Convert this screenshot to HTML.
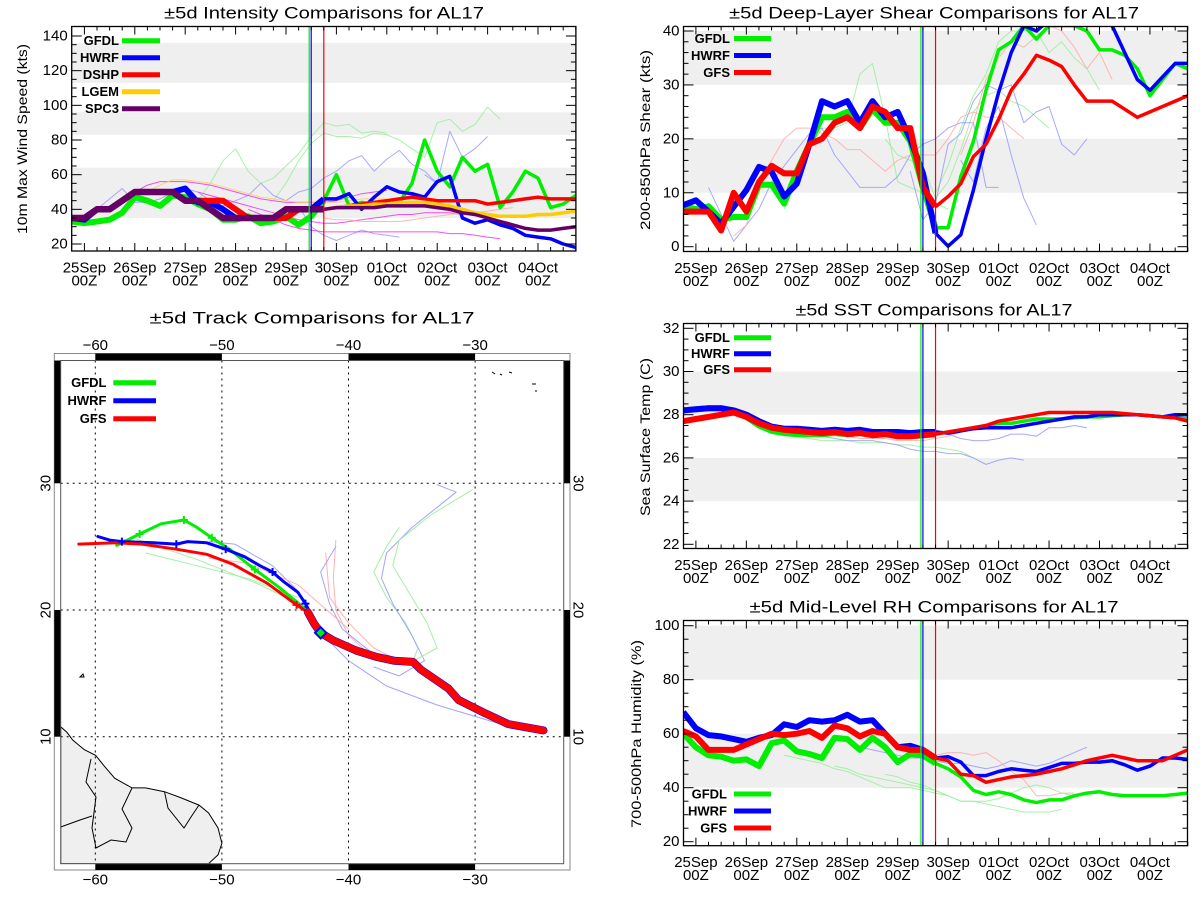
<!DOCTYPE html>
<html><head><meta charset="utf-8">
<style>
html,body{margin:0;padding:0;background:#fff;}
svg{display:block;font-family:"Liberation Sans",sans-serif;}
</style></head>
<body>
<svg id="fig" width="1200" height="900" viewBox="0 0 1200 900" xmlns="http://www.w3.org/2000/svg">
<rect x="0" y="0" width="1200" height="900" fill="#fff"/>
</svg>
<script>
// ---------- shared time axis ----------
const dayLabels = ["25Sep","26Sep","27Sep","28Sep","29Sep","30Sep","01Oct","02Oct","03Oct","04Oct"];
const HIST_END = 20;

// ---------- intensity data (kts), index i -> day (i-1)/4 ----------
const intTicks = [20,40,60,80,100,120,140];
const intBands = [[35,64],[83,96],[113,136]];
const intGFDL = [33,32,33,34,38,47,45,42,48,47,43,40,34,34,36,32,33,36,31,36,45,60,42,44,43,42,44,55,80,62,53,70,62,66,41,50,62,58,41,43,48];
const intHWRF = [35,34,40,40,45,50,50,50,50,52,44,44,40,35,35,35,35,40,40,40,46,46,49,40,47,53,50,49,47,56,59,35,32,34,31,29,25,24,23,20,18];
const intDSHP = [35,35,40,40,45,50,50,50,50,45,45,45,45,40,35,35,35,35,40,40,40,41,42,43,44,45,46,47,46,45,45,45,45,43,44,45,46,47,46,46,46];
const intLGEM = [null,null,null,null,null,null,null,null,null,null,null,null,null,null,null,null,null,null,null,null,40,41,42,42,43,43,44,44,44,43,42,40,38,37,36,36,36,37,37,38,39];
const intSPC3 = [35,35,40,40,45,50,50,50,50,45,45,40,35,35,35,35,35,40,40,40,40,41,41,41,41,42,42,42,42,41,40,38,37,35,33,31,29,28,28,29,30];
const intFaintG1 = [45,55,68,75,62,55,58,65,72,82,90,88,89,84,85,84];
const intFaintG2 = [45,55,68,78,84,82,82,81,84,83,80,75,70,90,92,85,89,99,92];
const intFaintB1 = [40,46,52,44,44,46,50,52,50,45,42,45,48,55,48,45,50,52,58,62,68,71,62,69,74,66,62,55,60];
const intFaintB2 = [42,30,25,22,25,28,26,25,24];
const intFaintB3 = [60,55,85,70,75,82];
const intFaintM1 = [45,50,54,56,56,56,55,54,52,50,48,46,45,44,44,44,44,45,47,49,50,51];
const intFaintM2 = [50,48,46,44,42,40,38,36,34,33,32,32,33,34,35,36,37,37,38,38,38,37];
const intFaintM3 = [40,37,34,31,29,28,27,27,27,27,27,27,27,27,27,27,26,26,25,24,23];
const intFaintY1 = [50,54,57,57,56,55,53,51,49,47,46,45,44,44,44,44,45,46,46,46];
const intFaintP1 = [35,34,34,33,33,33,33,34,35,36,37,38,38,39,40,41];

// ---------- shear data (kts) ----------
const shrTicks = [0,10,20,30,40];
const shrBands = [[10,20],[30,40]];
const shrGFDL = [7.5,7,7.5,5,5.5,5.5,11.5,11.5,8,14,19,24,24,25,22,25.5,23,23,19.5,11,3.5,3.5,13,19.5,29,36.5,38,41,38.5,41,41,41,40,36.5,36.5,35.5,33,28,31,34,33];
const shrHWRF = [7.7,8.6,6.5,4.3,7.4,10.5,14.8,13.9,9.3,11.7,19,27,26,27,23,27,24,25,20,13.6,2.5,0.1,2.2,10.5,20,28.6,36,41,40,42,42,42,42,42,41,36,31,29,31.5,34,34];
const shrGFS = [6.5,6.5,6.5,3,10,6.5,12,15,13.6,13.6,19,20,23,24,22,26,25,22,22,11,7.4,9.3,11.7,16.7,19,23.6,29,32,35.5,34.6,33.4,30,27,27,27,25.5,24,25,26,27,28];
const shrFaintG1 = [7,12,18,22,22,23,32,34,24,12,11,10,8,7];
const shrFaintG2 = [20,17,16,15,9,12,18,25,28,29,27,26,24,22];
const shrFaintG3 = [10,15,22,28,32,38,40,40,40,36,38,35,33,29];
const shrFaintB1 = [11,6,1,4,7,12,15,18,21,22,17,14,11,11,11,13,17,19,20,22,23,23,11,11];
const shrFaintB2 = [14,5,8,19,21,27,30,29,30,23,25,26,19,17,20];
const shrFaintB3 = [16,12,22,26,17,9,4];
const shrFaintR1 = [2,4,12,16,20,22,22,21,20,18,18,16,14,16,17,17,17,20,24,25,24,24,22,20];
const shrFaintR2 = [17,23,31,35,38,37,39,41,40,37,33,36,31];

// ---------- SST data (C) ----------
const sstTicks = [22,24,26,28,30,32];
const sstBands = [[24,26],[28,30]];
const sstGFDL = [28.2,28.25,28.3,28.3,28.2,27.9,27.5,27.25,27.15,27.1,27.1,27.1,27.15,27.1,27.15,27.05,27.1,27.0,27.0,27.05,27.1,27.2,27.3,27.4,27.5,27.6,27.6,27.7,27.8,27.8,27.8,27.85,27.9,27.9,27.95,28.0,28.0,27.95,27.9,27.85,27.8];
const sstHWRF = [28.2,28.25,28.3,28.3,28.2,28.0,27.7,27.45,27.35,27.35,27.3,27.25,27.3,27.25,27.3,27.2,27.2,27.2,27.15,27.2,27.2,27.15,27.25,27.35,27.4,27.4,27.4,27.5,27.6,27.7,27.8,27.9,27.9,28.0,28.0,28.0,28.0,27.95,27.9,28.0,28.0];
const sstGFS = [27.7,27.8,27.9,28.0,28.1,27.9,27.6,27.4,27.3,27.25,27.2,27.15,27.2,27.1,27.15,27.05,27.1,27.0,27.0,27.05,27.1,27.2,27.3,27.4,27.5,27.7,27.8,27.9,28.0,28.1,28.1,28.1,28.1,28.1,28.1,28.05,28.0,27.95,27.9,27.85,27.7];
const sstFaintG1 = [27.2,27.0,26.9,26.8,26.8,26.8,26.7,26.7,26.7,26.6,26.6,26.5,26.5,26.4,26.3,26.0,25.7];
const sstFaintB1 = [27.1,27.0,26.9,26.8,26.8,26.8,26.7,26.6,26.4,26.3,26.3,26.2,26.2,26.0,25.7,25.9,26.0,25.9];
const sstFaintB2 = [27.3,27.1,26.9,26.8,26.8,26.9,27.1,27.1,27.0,27.4,27.4,27.5,27.4];
const sstFaintR1 = [27.1,27.0,26.9,26.9,26.9,26.8,26.8,26.8,26.9,27.0,27.2,27.3,27.4,27.5,27.6,27.7,27.7];

// ---------- RH data (%) ----------
const rhTicks = [20,40,60,80,100];
const rhBands = [[40,60],[80,100]];
const rhGFDL = [60,55,52,51.5,50,50.5,48,56.5,57.5,53.5,52.5,51,58.5,58,54,58.5,55,49.5,52.5,52,49,47,44,39,37.5,38.5,37.5,35.5,34.5,35.5,35.5,37,38,38.5,37.5,37,37,37,37,37.5,38];
const rhHWRF = [68,62,59.5,59,58,57,58.5,59.5,63.5,62.5,65,64.5,65,67,64.5,65,60,55,55.5,54,51,51.5,49.5,44.5,44.5,46,47,46.5,46,47.5,49,49,49.5,49.5,50,48.5,46.5,48,51,51,50.5];
const rhGFS = [61,59,54,54,54,56,58,60,59.5,60,61,58.5,63,62,59,61,60,55,54,54,51,50,45,44.5,42,43,44,44.5,45,46,47,48.5,50,51,52,51,50,50,50,52,54];
const rhFaintG1 = [52,51,50,49,47,46,44,42,40,40,40,39,38,37];
const rhFaintG2 = [48,47,45,44,43,42,41,40,39,37,35,35,34,33,32,31,31,31,32];
const rhFaintG3 = [45,44,42,41,39,37,35,35,35,36,38,40,41,40,38,37];
const rhFaintB1 = [55,54,53,52,51,51,50,49,49,48,47,48,50,49,48,49,51,53,55];
const rhFaintR1 = [54,53,52,53,53,52,53,50,46,43,37,37,38,38];

// ---------- track data [lon, lat] ----------
const lonTicks = [-60,-50,-40,-30];
const latTicks = [10,20,30];
const trkGFS = [[-24.6,10.5],[-27.4,11.0],[-29.2,11.85],[-31.3,12.9],[-32.1,13.8],[-34.3,15.3],[-34.9,15.9],[-36.4,16.0],[-37.8,16.3],[-39.4,16.8],[-41.2,17.6],[-42.2,18.2],[-42.7,18.9],[-43.2,19.8],[-44.1,20.4],[-46.4,22.1],[-49.1,23.6],[-51.2,24.4],[-53.6,24.8],[-56.3,25.2],[-58.4,25.3],[-61.3,25.2]];
const trkHWRF = [[-42.2,18.2],[-43.4,20.5],[-44.0,21.4],[-45.2,22.3],[-46.0,23.0],[-47.0,23.5],[-48.2,24.2],[-49.7,24.8],[-51.2,25.3],[-52.7,25.4],[-53.6,25.2],[-55.4,25.3],[-57.9,25.4],[-58.8,25.5],[-59.8,25.8]];
const trkGFDL = [[-42.2,18.2],[-43.2,19.9],[-45.5,21.8],[-47.4,23.2],[-49.4,24.8],[-50.8,25.7],[-52.1,26.6],[-53.0,27.1],[-54.8,26.8],[-56.5,26.0],[-58.3,25.1]];
const trkGFSMarks = [[-44.1,20.4],[-43.2,19.8]];
const trkHWRFMarks = [[-43.4,20.5],[-46.0,23.0],[-49.7,24.8],[-53.6,25.2],[-57.9,25.4]];
const trkGFDLMarks = [[-47.4,23.2],[-50.8,25.7],[-53.0,27.1],[-56.5,26.0]];
const trkFaintG1 = [[-42,18.3],[-40,17.2],[-37,16.3],[-35,15.8],[-34.5,17],[-35.5,19],[-37,21],[-38,23],[-37,25],[-36,26.5]];
const trkFaintB1 = [[-38,15.5],[-36,14.8],[-34,16],[-35,18],[-36.5,20.5],[-37.4,22.5],[-37,24.5],[-35,26.5],[-32.5,28.5],[-31.5,29.3],[-33,29.9]];
const trkFaintG2 = [[-35,15.9],[-33,17],[-33.8,19],[-35,21],[-36.5,23.5],[-36,25.5],[-33.5,27.5],[-30.2,29.5]];
const trkFaintR1 = [[-38,16.2],[-40,18],[-41,20],[-41.2,22.5],[-41,25.5]];
const trkFaintR2 = [[-36,16],[-38,17],[-40,19],[-41.5,21],[-41.8,24.5]];
const trkFaintB2 = [[-35,16],[-38,16.5],[-40.5,18.5],[-41.5,20.5],[-42.2,23],[-41,25]];
const trkFaintB3 = [[-28,11],[-33,12.5],[-37,14],[-40,16],[-42.5,18.5],[-44,21.5],[-46,23.5],[-49,25.2],[-51,25.4]];
const trkFaintG3 = [[-43,20],[-47,22],[-52,24],[-55,25],[-57,25.7],[-59,25.3]];
const trkFaintR3 = [[-40,18.5],[-44,22],[-48,23.7],[-51,24.1]];
const trkFaintG4 = [[-44,21],[-48,22.5],[-52,23.5],[-56,24.5]];

// ---------- helpers ----------
const NS = 'http://www.w3.org/2000/svg';
const svg = document.getElementById('fig');
function mk(tag, attrs, parent){
  const e = document.createElementNS(NS, tag);
  for (const k in attrs) e.setAttribute(k, attrs[k]);
  (parent || svg).appendChild(e);
  return e;
}
function txt(parent, x, y, s, size, anchor, extra){
  const t = mk('text', Object.assign({x:x, y:y, 'font-size':size, 'text-anchor':anchor||'middle', 'dominant-baseline':'central', fill:'#000'}, extra||{}), parent);
  t.textContent = s;
  return t;
}
const C = {g:'#00ee00', b:'#0000ff', r:'#ff0000', y:'#ffcc00', p:'#660066', lg:'#99ee99', lb:'#9999ff', lr:'#ffaaaa', m:'#ee33ee', ly:'#ffcc66'};

function makeTS(cfg){
  const g = mk('g', {});
  
  
  const sx = i => cfg.day0x + ((i - 1) / 4) * cfg.dayPx;
  const sxd = d => cfg.day0x + d * cfg.dayPx;
  const sy = v => cfg.yA + (v - cfg.vA) * (cfg.yB - cfg.yA) / (cfg.vB - cfg.vA);
  const cid = 'clip-' + cfg.name;
  const cp = mk('clipPath', {id: cid}, g);
  mk('rect', {x: cfg.x0, y: cfg.y0, width: cfg.x1 - cfg.x0, height: cfg.y1 - cfg.y0}, cp);
  // bands
  cfg.bands.forEach(b => {
    const r = mk('rect', {x: cfg.x0, y: Math.max(cfg.y0, sy(b[1])), width: cfg.x1 - cfg.x0, height: Math.min(cfg.y1, sy(b[0])) - Math.max(cfg.y0, sy(b[1])), fill: '#efefef'}, g);
    
    
  });
  const lines = mk('g', {'clip-path': 'url(#' + cid + ')'}, g);
  function series(vals, start, from, to, color, w, op, name){
    let d = '', pen = false;
    for (let k = 0; k < vals.length; k++){
      const i = start + k;
      if (i < from || i > to || vals[k] === null){ pen = false; continue; }
      d += (pen ? 'L' : 'M') + sx(i).toFixed(1) + ' ' + sy(vals[k]).toFixed(1);
      pen = true;
    }
    const p = mk('path', {d: d, fill: 'none', stroke: color, 'stroke-width': w, 'stroke-linejoin': 'round', opacity: op}, lines);
    
    
  }
  cfg.faint.forEach(f => series(f[1], f[0], 0, 99, f[2], 1, 0.85, 'ensemble-line'));
  // vertical time lines
  [[4.5 - 0.04, C.g, 1.2], [4.5, C.b, 1.2], [4.75, C.r, 1.2]].forEach(v => {
    const l = mk('line', {x1: sxd(v[0]), x2: sxd(v[0]), y1: cfg.y0, y2: cfg.y1, stroke: v[1], 'stroke-width': v[2]}, g);
    
    
  });
  cfg.series.forEach(s => {
    series(s.v, 0, 0, HIST_END, s.c, s.hw, 1, s.n + '-history');
    series(s.v, 0, HIST_END, 99, s.c, s.fw, 1, s.n + '-forecast');
  });
  // frame
  const fr = mk('rect', {x: cfg.x0, y: cfg.y0, width: cfg.x1 - cfg.x0, height: cfg.y1 - cfg.y0, fill: 'none', stroke: '#000', 'stroke-width': 1.3}, g);
  
  
  // x ticks
  const tk = mk('g', {stroke: '#000', 'stroke-width': 1}, g);
  for (let i = 1; i <= 40; i++){
    const x = sx(i), len = ((i - 1) % 4 === 0) ? 8 : 4;
    mk('line', {x1: x, x2: x, y1: cfg.y1, y2: cfg.y1 - len}, tk);
    mk('line', {x1: x, x2: x, y1: cfg.y0, y2: cfg.y0 + len}, tk);
  }
  dayLabels.forEach((lab, d) => {
    const x = sxd(d);
    const t1 = txt(g, x, cfg.y1 + 17, lab, 15);
    
    
    const t2 = txt(g, x, cfg.y1 + 30, '00Z', 15);
    
    
  });
  // y ticks
  const vlo = cfg.ticks[0], vhi = cfg.ticks[cfg.ticks.length - 1];
  for (let v = vlo; v <= vhi + 1e-9; v += cfg.minor){
    const y = sy(v);
    const major = cfg.ticks.some(t => Math.abs(t - v) < 1e-6);
    const len = major ? 10 : 5;
    mk('line', {x1: cfg.x0, x2: cfg.x0 + len, y1: y, y2: y}, tk);
    mk('line', {x1: cfg.x1, x2: cfg.x1 - len, y1: y, y2: y}, tk);
  }
  cfg.ticks.forEach(v => {
    const t = txt(g, cfg.x0 - 4, sy(v), String(v), 15, 'end');
    
    
  });
  const tt = txt(g, cfg.titleX, cfg.titleY, cfg.title, 17, 'middle', {textLength: cfg.titleW, lengthAdjust: 'spacingAndGlyphs'});
  
  
  const yt = txt(g, 0, 0, cfg.ytitle, 14, 'middle', {transform: 'translate(' + cfg.ytX + ',' + cfg.ytY + ') rotate(-90)', textLength: cfg.ytW, lengthAdjust: 'spacingAndGlyphs'});
  
  
  // legend
  cfg.series.forEach((s, k) => {
    const y = cfg.legY + k * cfg.legDy;
    const lt = txt(g, cfg.legTx, y, s.label, 14, 'end', {'font-weight': 'bold', 'font-size': 13});
    
    
    const ll = mk('line', {x1: cfg.legL0, x2: cfg.legL1, y1: y, y2: y, stroke: s.c, 'stroke-width': 5}, g);
    
    
  });
}

const L = {x0: 71.7, x1: 575.9};
const R = {x0: 683.5, x1: 1187.5};

makeTS({name: 'intensity-chart', x0: L.x0, x1: L.x1, y0: 26.5, y1: 251, day0x: 84.4, dayPx: 50.4,
  vA: 140, yA: 36, vB: 20, yB: 244, ticks: intTicks, minor: 5, bands: intBands,
  title: '±5d Intensity Comparisons for AL17', titleX: 324, titleY: 13, titleW: 320,
  ytitle: '10m Max Wind Speed (kts)', ytX: 22, ytY: 139, ytW: 190,
  legY: 40.7, legDy: 17, legTx: 119, legL0: 122, legL1: 160,
  faint: [[10, intFaintG1, C.lg], [16, intFaintG2, C.lg], [2, intFaintB1, C.lb], [18, intFaintB2, C.lb], [28, intFaintB3, C.lb],
          [4, intFaintM1, C.m], [10, intFaintM2, C.m], [14, intFaintM3, C.m], [6, intFaintY1, C.ly], [20, intFaintP1, C.lr]],
  series: [{n: 'gfdl', label: 'GFDL', v: intGFDL, c: C.g, hw: 6, fw: 3.5},
           {n: 'hwrf', label: 'HWRF', v: intHWRF, c: C.b, hw: 6, fw: 3.5},
           {n: 'dshp', label: 'DSHP', v: intDSHP, c: C.r, hw: 6, fw: 3.5},
           {n: 'lgem', label: 'LGEM', v: intLGEM, c: C.y, hw: 6, fw: 3.5},
           {n: 'spc3', label: 'SPC3', v: intSPC3, c: C.p, hw: 6.5, fw: 3.5}]});

makeTS({name: 'shear-chart', x0: R.x0, x1: R.x1, y0: 26.5, y1: 251.5, day0x: 695.9, dayPx: 50.45,
  vA: 40, yA: 31, vB: 0, yB: 246.7, ticks: shrTicks, minor: 2, bands: shrBands,
  title: '±5d Deep-Layer Shear Comparisons for AL17', titleX: 934, titleY: 13, titleW: 410,
  ytitle: '200-850hPa Shear (kts)', ytX: 645, ytY: 140, ytW: 180,
  legY: 38.5, legDy: 17, legTx: 730, legL0: 734, legL1: 771,
  faint: [[8, shrFaintG1, C.lg], [16, shrFaintG2, C.lg], [20, shrFaintG3, C.lg], [2, shrFaintB1, C.lb], [18, shrFaintB2, C.lb], [22, shrFaintB3, C.lb], [4, shrFaintR1, C.lr], [22, shrFaintR2, C.lr]],
  series: [{n: 'gfdl', label: 'GFDL', v: shrGFDL, c: C.g, hw: 6, fw: 3.5},
           {n: 'hwrf', label: 'HWRF', v: shrHWRF, c: C.b, hw: 6, fw: 3.5},
           {n: 'gfs', label: 'GFS', v: shrGFS, c: C.r, hw: 6, fw: 3.5}]});

makeTS({name: 'sst-chart', x0: R.x0, x1: R.x1, y0: 323.5, y1: 548.5, day0x: 695.9, dayPx: 50.45,
  vA: 32, yA: 328.3, vB: 22, yB: 544.3, ticks: sstTicks, minor: 0.5, bands: sstBands,
  title: '±5d SST Comparisons for AL17', titleX: 934, titleY: 310, titleW: 277,
  ytitle: 'Sea Surface Temp (C)', ytX: 645, ytY: 437, ytW: 158,
  legY: 337.7, legDy: 16, legTx: 730, legL0: 734, legL1: 771,
  faint: [[8, sstFaintG1, C.lg], [10, sstFaintB1, C.lb], [20, sstFaintB2, C.lb], [12, sstFaintR1, C.lr]],
  series: [{n: 'gfdl', label: 'GFDL', v: sstGFDL, c: C.g, hw: 6, fw: 3.5},
           {n: 'hwrf', label: 'HWRF', v: sstHWRF, c: C.b, hw: 6, fw: 3.5},
           {n: 'gfs', label: 'GFS', v: sstGFS, c: C.r, hw: 6, fw: 3.5}]});

makeTS({name: 'rh-chart', x0: R.x0, x1: R.x1, y0: 620.5, y1: 845.7, day0x: 695.9, dayPx: 50.45,
  vA: 100, yA: 625.7, vB: 20, yB: 841.7, ticks: rhTicks, minor: 5, bands: rhBands,
  title: '±5d Mid-Level RH Comparisons for AL17', titleX: 934, titleY: 607, titleW: 369,
  ytitle: '700-500hPa Humidity (%)', ytX: 636, ytY: 734, ytW: 188,
  legY: 794, legDy: 17, legTx: 727, legL0: 734, legL1: 771,
  faint: [[8, rhFaintG1, C.lg], [12, rhFaintG2, C.lg], [16, rhFaintG3, C.lg], [14, rhFaintB1, C.lb], [18, rhFaintR1, C.lr]],
  series: [{n: 'gfdl', label: 'GFDL', v: rhGFDL, c: C.g, hw: 6, fw: 3.5},
           {n: 'hwrf', label: 'HWRF', v: rhHWRF, c: C.b, hw: 6, fw: 3.5},
           {n: 'gfs', label: 'GFS', v: rhGFS, c: C.r, hw: 6, fw: 3.5}]});

// ---------- track map ----------
(function(){
  const g = mk('g', {});
  
  
  const ix0 = 60.7, ix1 = 563.7, iy0 = 360.5, iy1 = 863.7;
  const ox0 = 54.3, ox1 = 570, oy0 = 353.5, oy1 = 870;
  const px = lon => 95.3 + (lon + 60) * 12.66;
  const py = lat => 483.3 - (lat - 30) * 12.67;
  const cp = mk('clipPath', {id: 'clip-track'}, g);
  mk('rect', {x: ix0, y: iy0, width: ix1 - ix0, height: iy1 - iy0}, cp);
  // outer frame bars
  const ofr = mk('rect', {x: ox0, y: oy0, width: ox1 - ox0, height: oy1 - oy0, fill: '#fff', stroke: '#888', 'stroke-width': 1}, g);
  
  
  const bars = mk('g', {fill: '#000'}, g);
  
  
  [[-60,-50],[-40,-30]].forEach(s => {
    mk('rect', {x: px(s[0]), y: oy0, width: px(s[1]) - px(s[0]), height: iy0 - oy0}, bars);
    mk('rect', {x: px(s[0]), y: iy1, width: px(s[1]) - px(s[0]), height: oy1 - iy1}, bars);
  });
  [[30,39.8],[10,20]].forEach(s => {
    mk('rect', {x: ox0, y: Math.max(iy0, py(s[1])), width: ix0 - ox0, height: py(s[0]) - Math.max(iy0, py(s[1]))}, bars);
    mk('rect', {x: ix1, y: Math.max(iy0, py(s[1])), width: ox1 - ix1, height: py(s[0]) - Math.max(iy0, py(s[1]))}, bars);
  });
  const inner = mk('g', {'clip-path': 'url(#clip-track)'}, g);
  mk('rect', {x: ix0, y: iy0, width: ix1 - ix0, height: iy1 - iy0, fill: '#fff'}, inner);
  // land
  const land = mk('path', {d: 'M60.7,726.7 L67,732.4 L72.7,740 L84.2,749.6 L95.7,755.4 L103.3,764.9 L114.8,778.3 L132,787.9 L145.4,787.9 L164.5,791.7 L179.9,797.4 L199,805.1 L208.5,812.8 L218.1,828.1 L221.9,843.4 L218.1,854.8 L208.5,863.7 L60.7,863.7 Z', fill: '#efefef', stroke: '#000', 'stroke-width': 1}, inner);
  
  
  const bord = mk('path', {d: 'M91,759 L86,782 L96,797 L92,828 L96,848 L111,840 L126,842 L132,828 L122,809 L132,788 M164.5,791.7 L168,808 L184,828 L191,817 L199,805 M60.7,827 L80,820 L92,816', fill: 'none', stroke: '#000', 'stroke-width': 1}, inner);
  
  
  const isl = mk('path', {d: 'M80,677 l3,-3 l1,3 z M492,372 l3,2 M500,374 l2,1 M509,372 l3,1 M532,384 l4,0 M535,391 l2,0', fill: 'none', stroke: '#000', 'stroke-width': 1}, inner);
  
  
  // grid
  const grid = mk('g', {stroke: '#000', 'stroke-width': 1, 'stroke-dasharray': '2,4'}, inner);
  
  
  lonTicks.forEach(lon => mk('line', {x1: px(lon), x2: px(lon), y1: iy0, y2: iy1}, grid));
  latTicks.forEach(lat => mk('line', {x1: ix0, x2: ix1, y1: py(lat), y2: py(lat)}, grid));
  function track(pts, color, w, op, name){
    const d = pts.map((p, k) => (k ? 'L' : 'M') + px(p[0]).toFixed(1) + ' ' + py(p[1]).toFixed(1)).join('');
    const p = mk('path', {d: d, fill: 'none', stroke: color, 'stroke-width': w, 'stroke-linejoin': 'round', 'stroke-linecap': 'round', opacity: op}, inner);
    
    
  }
  function marks(pts, color, name){
    pts.forEach(p => {
      const m = mk('path', {d: 'M' + (px(p[0]) - 4) + ' ' + py(p[1]) + 'h8M' + px(p[0]) + ' ' + (py(p[1]) - 4) + 'v8', stroke: color, 'stroke-width': 2}, inner);
      
      
    });
  }
  [[trkFaintG1, C.lg], [trkFaintB1, C.lb], [trkFaintG2, C.lg], [trkFaintR1, C.lr], [trkFaintR2, C.lr], [trkFaintB2, C.lb], [trkFaintB3, C.lb], [trkFaintG3, C.lg], [trkFaintR3, C.lr], [trkFaintG4, C.lg]]
    .forEach(f => track(f[0], f[1], 1, 0.9, 'ensemble-track'));
  track(trkGFDL, C.g, 3, 1, 'gfdl-track');
  track(trkHWRF, C.b, 3, 1, 'hwrf-track');
  track(trkGFS.slice(11), C.r, 3, 1, 'gfs-track-forecast');
  track(trkGFS.slice(0, 14), C.b, 8, 1, 'hwrf-track-history');
  track(trkGFS.slice(0, 14), C.r, 7, 1, 'gfs-track-history');
  marks(trkGFDLMarks, C.g, 'gfdl-track-marker');
  marks(trkHWRFMarks, C.b, 'hwrf-track-marker');
  marks(trkGFSMarks, C.r, 'gfs-track-marker');
  const cur = trkGFS[11];
  const dm = mk('rect', {x: px(cur[0]) - 4, y: py(cur[1]) - 4, width: 8, height: 8, fill: C.g, stroke: C.b, 'stroke-width': 2, transform: 'rotate(45 ' + px(cur[0]) + ' ' + py(cur[1]) + ')'}, inner);
  
  
  const ifr = mk('rect', {x: ix0, y: iy0, width: ix1 - ix0, height: iy1 - iy0, fill: 'none', stroke: '#555', 'stroke-width': 1}, g);
  
  
  lonTicks.forEach(lon => {
    const a = txt(g, px(lon), 345.5, '\u2212' + Math.abs(lon), 15);
    
    
    const b = txt(g, px(lon), 880, '\u2212' + Math.abs(lon), 15);
    
    
  });
  latTicks.forEach(lat => {
    const a = txt(g, 0, 0, String(lat), 15, 'middle', {transform: 'translate(46,' + py(lat) + ') rotate(-90)'});
    
    
    const b = txt(g, 0, 0, String(lat), 15, 'middle', {transform: 'translate(578,' + py(lat) + ') rotate(90)'});
    
    
  });
  const t = txt(g, 312, 318, '±5d Track Comparisons for AL17', 17, 'middle', {textLength: 325, lengthAdjust: 'spacingAndGlyphs'});
  
  
  [['GFDL', C.g], ['HWRF', C.b], ['GFS', C.r]].forEach((l, k) => {
    const y = 382.7 + k * 18;
    const lt = txt(g, 106.5, y, l[0], 13, 'end', {'font-weight': 'bold'});
    
    
    const ll = mk('line', {x1: 113.3, x2: 156, y1: y, y2: y, stroke: l[1], 'stroke-width': 5}, g);
    
    
  });
})();
</script>
</body></html>
